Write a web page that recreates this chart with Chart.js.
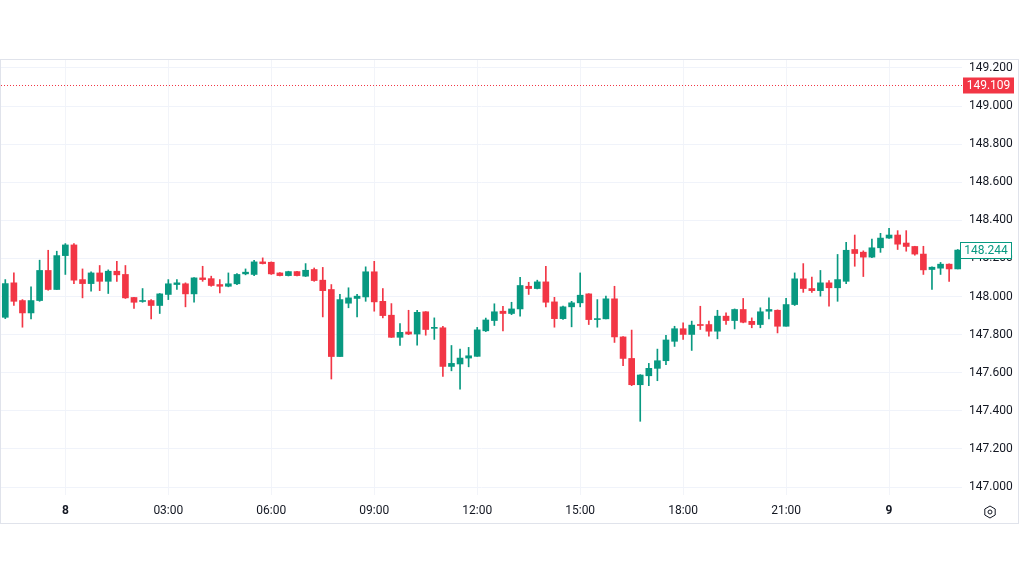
<!DOCTYPE html>
<html>
<head>
<meta charset="utf-8">
<script src="https://cdn.jsdelivr.net/npm/chart.js@4.4.0/dist/chart.umd.min.js"></script>
<style>
  html, body { margin: 0; padding: 0; background: #fff; }
  #wrap { width: 1024px; height: 576px; }
</style>
</head>
<body>
<div id="wrap"><canvas id="candles"></canvas></div>
<script>
// 15 minute candles
const openPrices = [
  147.891, 148.072, 147.979, 147.914, 147.979, 148.137, 148.037, 148.215, 148.271, 148.089,
  148.068, 148.124, 148.080, 148.133, 148.116, 147.995, 147.974, 147.979, 147.953, 148.011,
  148.063, 148.067, 148.014, 148.098, 148.094, 148.063, 148.054, 148.067, 148.119, 148.116,
  148.182, 148.180, 148.124, 148.110, 148.131, 148.107, 148.142, 148.086, 148.037, 147.685,
  147.965, 147.990, 147.998, 148.130, 147.975, 147.902, 147.786, 147.814, 147.803, 147.920,
  147.833, 147.836, 147.633, 147.646, 147.677, 147.686, 147.820, 147.874, 147.923, 147.911,
  147.935, 148.054, 148.042, 148.077, 147.972, 147.884, 147.946, 147.967, 148.014, 147.879,
  147.883, 147.988, 147.788, 147.675, 147.537, 147.584, 147.623, 147.663, 147.765, 147.831,
  147.801, 147.853, 147.853, 147.818, 147.897, 147.874, 147.932, 147.870, 147.853, 147.923,
  147.928, 147.844, 147.958, 148.093, 148.042, 148.031, 148.072, 148.046, 148.080, 148.247,
  148.233, 148.207, 148.256, 148.307, 148.323, 148.281, 148.263, 148.223, 148.142, 148.149,
  148.170, 148.145
];
const highPrices = [
  148.089, 148.124, 147.984, 148.051, 148.191, 148.243, 148.238, 148.278, 148.278, 148.145,
  148.130, 148.163, 148.140, 148.185, 148.163, 147.996, 148.042, 147.984, 148.016, 148.089,
  148.089, 148.072, 148.100, 148.159, 148.107, 148.089, 148.124, 148.120, 148.145, 148.190,
  148.203, 148.182, 148.126, 148.133, 148.133, 148.173, 148.150, 148.153, 148.063, 148.011,
  148.046, 148.011, 148.156, 148.185, 148.042, 147.963, 147.858, 147.928, 147.928, 147.921,
  147.888, 147.844, 147.743, 147.724, 147.733, 147.838, 147.887, 147.962, 147.949, 147.970,
  148.101, 148.075, 148.086, 148.159, 147.996, 147.950, 147.975, 148.124, 148.015, 147.984,
  148.002, 148.054, 147.790, 147.824, 147.590, 147.649, 147.724, 147.797, 147.844, 147.862,
  147.871, 147.949, 147.871, 147.928, 147.914, 147.935, 147.990, 147.888, 147.941, 147.993,
  147.930, 147.990, 148.124, 148.173, 148.102, 148.137, 148.084, 148.221, 148.285, 148.323,
  148.240, 148.302, 148.332, 148.358, 148.346, 148.346, 148.264, 148.264, 148.156, 148.179,
  148.172, 148.247
];
const lowPrices = [
  147.884, 147.953, 147.839, 147.883, 147.975, 148.033, 148.037, 148.116, 148.068, 147.993,
  148.028, 148.031, 148.016, 148.080, 147.990, 147.937, 147.970, 147.883, 147.911, 147.984,
  148.037, 147.946, 147.970, 148.080, 148.054, 148.019, 148.051, 148.063, 148.114, 148.110,
  148.171, 148.116, 148.108, 148.108, 148.108, 148.105, 148.080, 147.893, 147.567, 147.685,
  147.941, 147.893, 147.975, 147.923, 147.888, 147.785, 147.743, 147.800, 147.745, 147.797,
  147.775, 147.580, 147.610, 147.514, 147.631, 147.686, 147.816, 147.848, 147.820, 147.905,
  147.897, 148.011, 148.040, 147.946, 147.839, 147.880, 147.841, 147.946, 147.853, 147.839,
  147.883, 147.759, 147.637, 147.532, 147.345, 147.532, 147.558, 147.642, 147.738, 147.775,
  147.717, 147.827, 147.792, 147.778, 147.853, 147.830, 147.862, 147.836, 147.836, 147.883,
  147.809, 147.844, 147.953, 148.022, 148.022, 148.002, 147.949, 147.975, 148.068, 148.159,
  148.105, 148.204, 148.232, 148.305, 148.247, 148.238, 148.217, 148.116, 148.037, 148.116,
  148.080, 148.145
];
const closePrices = [
  148.068, 147.975, 147.914, 147.979, 148.137, 148.037, 148.215, 148.271, 148.086, 148.068,
  148.124, 148.080, 148.133, 148.114, 147.993, 147.970, 147.979, 147.953, 148.014, 148.067,
  148.072, 148.014, 148.098, 148.089, 148.058, 148.054, 148.067, 148.116, 148.128, 148.182,
  148.173, 148.119, 148.110, 148.131, 148.110, 148.138, 148.084, 148.031, 147.685, 147.984,
  147.993, 148.002, 148.130, 147.972, 147.900, 147.786, 147.812, 147.803, 147.917, 147.827,
  147.836, 147.633, 147.649, 147.677, 147.689, 147.825, 147.877, 147.920, 147.911, 147.935,
  148.058, 148.042, 148.077, 147.970, 147.884, 147.946, 147.967, 148.007, 147.879, 147.884,
  147.988, 147.788, 147.675, 147.537, 147.588, 147.623, 147.663, 147.772, 147.831, 147.801,
  147.850, 147.848, 147.818, 147.897, 147.874, 147.932, 147.865, 147.853, 147.920, 147.932,
  147.844, 147.958, 148.093, 148.042, 148.031, 148.072, 148.046, 148.089, 148.243, 148.226,
  148.207, 148.256, 148.307, 148.323, 148.275, 148.263, 148.223, 148.140, 148.154, 148.170,
  148.145, 148.244
];
const priceTicks = [147.0, 147.2, 147.4, 147.6, 147.8, 148.0, 148.2, 148.4, 148.6, 148.8, 149.0, 149.2];
const lastPrice = 148.244;
const markPrice = 149.109;

const upColor = '#089981';
const downColor = '#f23645';

// bar times: first candle 22:15 on the 7th, one every 15 minutes
const times = [];
let day = 7, mins = 22 * 60 + 15;
for (let i = 0; i < openPrices.length; i++) {
  const h = Math.floor(mins / 60), m = mins % 60;
  times.push(day + ' ' + String(h).padStart(2, '0') + ':' + String(m).padStart(2, '0'));
  mins += 15;
  if (mins >= 24 * 60) { mins -= 24 * 60; day++; }
}

const candleColors = openPrices.map((o, i) => closePrices[i] >= o ? upColor : downColor);

function axisLabel(idx) {
  const parts = times[idx].split(' ');
  const hm = parts[1].split(':').map(Number);
  if (hm[1] !== 0 || hm[0] % 3 !== 0) return null;
  return hm[0] === 0 ? parts[0] : parts[1];
}

const overlay = {
  id: 'overlay',
  afterDraw(chart) {
    const c = chart.ctx;
    const area = chart.chartArea;
    const y = chart.scales.y;
    c.save();

    // frame
    c.strokeStyle = '#e0e3eb';
    c.lineWidth = 1;
    c.strokeRect(0.5, 59.5, 1018, 464);

    // dotted marker line
    const my = Math.round(y.getPixelForValue(markPrice)) + 0.5;
    c.setLineDash([1, 2]);
    c.strokeStyle = downColor;
    c.beginPath();
    c.moveTo(area.left, my);
    c.lineTo(area.right, my);
    c.stroke();
    c.setLineDash([]);

    c.font = '12px Roboto';
    c.textAlign = 'center';
    c.textBaseline = 'middle';

    // red price tag
    c.fillStyle = downColor;
    c.fillRect(963, my - 8, 51, 16);
    c.fillStyle = '#ffffff';
    c.fillText(markPrice.toFixed(3), 988.5, my + 0.5);

    // last price tag
    const ly = Math.round(y.getPixelForValue(lastPrice)) + 0.5;
    c.fillStyle = '#ffffff';
    c.fillRect(960.5, ly - 8, 51, 16);
    c.strokeStyle = upColor;
    c.strokeRect(960.5, ly - 8, 51, 16);
    c.fillStyle = upColor;
    c.fillText(lastPrice.toFixed(3), 986, ly + 0.5);

    // settings icon
    const gx = 990, gy = 512, r = 6;
    c.strokeStyle = '#131722';
    c.beginPath();
    for (let k = 0; k < 6; k++) {
      const a = Math.PI / 6 + k * Math.PI / 3;
      const px = gx + r * Math.cos(a), py = gy + r * Math.sin(a);
      if (k === 0) c.moveTo(px, py); else c.lineTo(px, py);
    }
    c.closePath();
    c.stroke();
    c.beginPath();
    c.arc(gx, gy, 2, 0, Math.PI * 2);
    c.stroke();

    c.restore();
  }
};

const ctx = document.getElementById('candles').getContext('2d');
const chart = new Chart(ctx, {
  type: 'bar',
  data: {
    labels: times,
    datasets: [
      {
        label: 'wick',
        data: lowPrices.map((l, i) => [l, highPrices[i]]),
        backgroundColor: candleColors,
        barThickness: 1,
        grouped: false
      },
      {
        label: 'body',
        data: openPrices.map((o, i) => [o, closePrices[i]]),
        backgroundColor: candleColors,
        barThickness: 6,
        minBarLength: 1,
        grouped: false
      }
    ]
  },
  options: {
    responsive: true,
    maintainAspectRatio: false,
    animation: false,
    layout: { padding: { top: 60, left: 1, right: 6, bottom: 53 } },
    plugins: {
      legend: { display: false },
      tooltip: { enabled: false }
    },
    scales: {
      x: {
        afterFit: axis => { axis.height = 28; },
        grid: { color: '#f2f4f9', drawTicks: false, offset: false },
        border: { display: false },
        ticks: {
          autoSkip: false,
          maxRotation: 0,
          padding: 9,
          color: '#131722',
          font: c => ({ family: 'Roboto', size: 12, weight: (c.tick && /^\d$/.test(c.tick.label)) ? 'bold' : 'normal' }),
          callback: function (value) { return axisLabel(value); }
        }
      },
      y: {
        position: 'right',
        min: 146.958,
        max: 149.242,
        bounds: 'data',
        afterBuildTicks: axis => { axis.ticks = priceTicks.map(v => ({ value: v })); },
        afterFit: axis => { axis.width = 56; },
        grid: { color: '#f0f3fa', drawTicks: false },
        border: { display: false },
        ticks: {
          padding: 7,
          color: '#131722',
          font: { family: 'Roboto', size: 12 },
          callback: v => Number(v).toFixed(3)
        }
      }
    }
  },
  plugins: [overlay]
});
</script>
</body>
</html>
